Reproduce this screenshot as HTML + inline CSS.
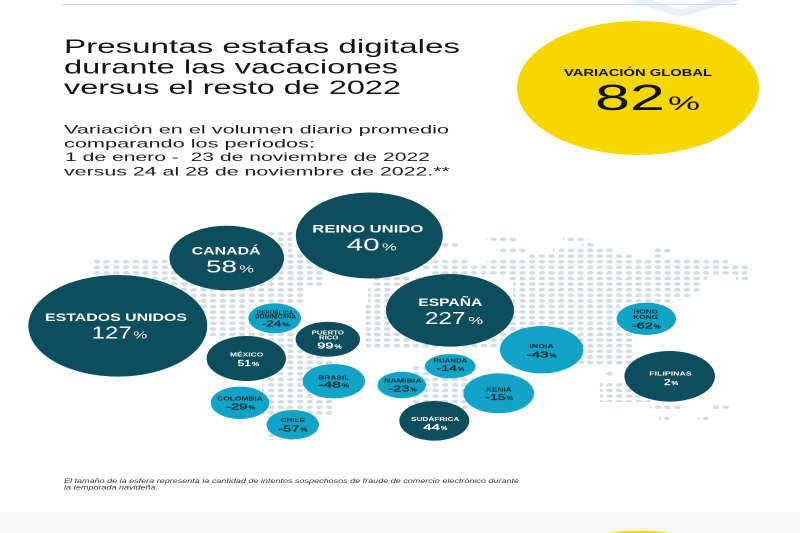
<!DOCTYPE html>
<html><head><meta charset="utf-8"><style>
html,body{margin:0;padding:0;background:#fff;width:800px;height:533px;overflow:hidden;}
svg{display:block;overflow:hidden;}
text{font-family:"Liberation Sans",sans-serif;}
.t{font-size:19px;fill:#141414;}
.s{font-size:12px;fill:#1e1e1e;}
.lb{font-weight:bold;font-size:11px;fill:#fff;}
.nb{font-size:17.5px;fill:#fff;}
.pb{font-size:10px;fill:#fff;}
.sl{font-weight:bold;font-size:5.8px;}
.sn{font-size:8.5px;stroke-width:0.35;}
.sp{font-size:5.5px;stroke-width:0.25;}
.w{fill:#fff;stroke:#fff;}
.k{fill:#0d2b36;stroke:#0d2b36;}
.wl{fill:#fff;}
.kl{fill:#0d2b36;}
</style></head><body>
<svg width="800" height="533" viewBox="0 0 800 533" xmlns="http://www.w3.org/2000/svg">
<defs>
<pattern id="d" patternUnits="userSpaceOnUse" x="101.87" y="258.9" width="9.67" height="5.6">
<ellipse cx="4.835" cy="2.8" rx="3.3" ry="1.85" fill="#d3dbe3"/>
</pattern>
</defs>
<rect x="0" y="0" width="800" height="533" fill="#fff"/>
<!-- top decoration -->
<polygon points="627,0 652,0 680,10 712,0 740,0 680,17" fill="#e6f2f7"/>
<line x1="62" y1="4.5" x2="737" y2="4.5" stroke="#d9d9d9" stroke-width="1"/>

<!-- title -->
<text class="t" x="64" y="53" textLength="396" lengthAdjust="spacingAndGlyphs">Presuntas estafas digitales</text>
<text class="t" x="64" y="73.5" textLength="334" lengthAdjust="spacingAndGlyphs">durante las vacaciones</text>
<text class="t" x="64" y="94" textLength="337" lengthAdjust="spacingAndGlyphs">versus el resto de 2022</text>

<text class="s" x="64" y="133.3" textLength="385" lengthAdjust="spacingAndGlyphs">Variación en el volumen diario promedio</text>
<text class="s" x="64" y="147.3" textLength="251" lengthAdjust="spacingAndGlyphs">comparando los períodos:</text>
<text class="s" x="65" y="161" textLength="365" lengthAdjust="spacingAndGlyphs">1 de enero -&#160; 23 de noviembre de 2022</text>
<text class="s" x="64" y="175.5" textLength="386" lengthAdjust="spacingAndGlyphs">versus 24 al 28 de noviembre de 2022.**</text>

<!-- yellow global -->
<ellipse cx="638" cy="88" rx="121" ry="67" fill="#f8d700"/>
<text x="564" y="76" font-weight="bold" font-size="10" fill="#111" textLength="148" lengthAdjust="spacingAndGlyphs">VARIACIÓN GLOBAL</text>
<text x="595" y="110" font-size="36" fill="#111" textLength="70" lengthAdjust="spacingAndGlyphs">82</text>
<text x="668" y="110" font-size="19" fill="#111" textLength="32" lengthAdjust="spacingAndGlyphs">%</text>

<!-- dot map -->
<g fill="url(#d)">
<rect x="92" y="259" width="80" height="22"/>
<rect x="170" y="253" width="135" height="50"/>
<rect x="263" y="231" width="29" height="22"/>
<rect x="290" y="253" width="32" height="34"/>
<rect x="200" y="298" width="50" height="39"/>
<rect x="245" y="330" width="50" height="20"/>
<rect x="283" y="345" width="39" height="21"/>
<rect x="262" y="360" width="73" height="55"/>
<rect x="268" y="410" width="42" height="30"/>

<rect x="486" y="236.5" width="32" height="5.6"/>
<rect x="563" y="236.5" width="25" height="5.6"/>
<rect x="440" y="242.1" width="20" height="5.6"/>
<rect x="582" y="242.1" width="13" height="5.6"/>
<rect x="496" y="247.7" width="31" height="5.6"/>
<rect x="553" y="247.7" width="60" height="5.6"/>
<rect x="651" y="247.7" width="20" height="5.6"/>
<rect x="527" y="253.3" width="106" height="5.6"/>
<rect x="651" y="253.3" width="11" height="5.6"/>
<rect x="426" y="258.9" width="44" height="5.6"/>
<rect x="486" y="258.9" width="244" height="5.6"/>
<rect x="416" y="264.5" width="334" height="5.6"/>
<rect x="432" y="270.1" width="315" height="5.6"/>
<rect x="372" y="275.7" width="40" height="11"/>
<rect x="506" y="275.7" width="201" height="5.6"/>
<rect x="736" y="275.7" width="14" height="5.6"/>
<rect x="513" y="281.3" width="187" height="5.6"/>
<rect x="513" y="286.9" width="187" height="5.6"/>
<rect x="513" y="292.5" width="177" height="5.6"/>
<rect x="368" y="286.9" width="25" height="17"/>
<rect x="513" y="298.1" width="160" height="5.6"/>
<rect x="366" y="303.7" width="27" height="33.6"/>
<rect x="510" y="303.7" width="110" height="33.6"/>
<rect x="366" y="331.7" width="140" height="16.8"/>
<rect x="580" y="331.7" width="56" height="16.8"/>
<rect x="580" y="348.5" width="53" height="16.8"/>
<rect x="603" y="370.9" width="10" height="5.6"/>
<rect x="410" y="365" width="63" height="45"/>
<rect x="600" y="381" width="50" height="21"/>
<rect x="650" y="404.5" width="33" height="5.6"/>
<rect x="710" y="404.5" width="20" height="5.6"/>
<rect x="659" y="415.7" width="10" height="5.6"/>
<rect x="698" y="415.7" width="10" height="5.6"/>
</g>

<!-- bubbles -->
<g>
<ellipse cx="117.8" cy="325.8" rx="89.5" ry="50.8" fill="#0c4e5d"/>
<ellipse cx="226.7" cy="258" rx="57.3" ry="32.2" fill="#0c4e5d"/>
<ellipse cx="369.3" cy="235.5" rx="73.5" ry="43" fill="#0c4e5d"/>
<ellipse cx="450" cy="310.3" rx="64" ry="36.3" fill="#0c4e5d"/>
<ellipse cx="274.7" cy="318.3" rx="26.3" ry="15" fill="#12a4c6"/>
<ellipse cx="327.8" cy="339.2" rx="32.2" ry="17.5" fill="#0c4e5d"/>
<ellipse cx="246.3" cy="358.5" rx="39.7" ry="22.5" fill="#0c4e5d"/>
<ellipse cx="333.8" cy="381.2" rx="31.2" ry="17.2" fill="#12a4c6"/>
<ellipse cx="240" cy="402.8" rx="29.3" ry="16.2" fill="#12a4c6"/>
<ellipse cx="292.8" cy="424.7" rx="26.2" ry="14.7" fill="#12a4c6"/>
<ellipse cx="541.7" cy="349.7" rx="41.7" ry="23.7" fill="#12a4c6"/>
<ellipse cx="646.3" cy="318.8" rx="29.7" ry="16.2" fill="#12a4c6"/>
<ellipse cx="669.7" cy="376.3" rx="45.3" ry="25.3" fill="#0c4e5d"/>
<ellipse cx="450.3" cy="366.2" rx="25.3" ry="12.2" fill="#12a4c6"/>
<ellipse cx="401.8" cy="385" rx="24.2" ry="13.3" fill="#12a4c6"/>
<ellipse cx="498.7" cy="393.3" rx="35.3" ry="20" fill="#12a4c6"/>
<ellipse cx="434.3" cy="420.8" rx="35" ry="19.8" fill="#0c4e5d"/>
</g>

<!-- big labels -->
<text class="lb" x="45" y="321" textLength="142" lengthAdjust="spacingAndGlyphs">ESTADOS UNIDOS</text>
<text class="nb" x="91.7" y="338.3" textLength="40" lengthAdjust="spacingAndGlyphs">127</text>
<text class="pb" x="133.3" y="338.3" textLength="14" lengthAdjust="spacingAndGlyphs">%</text>

<text class="lb" x="191.7" y="254.3" textLength="69" lengthAdjust="spacingAndGlyphs">CANADÁ</text>
<text class="nb" x="206" y="272.7" textLength="31" lengthAdjust="spacingAndGlyphs">58</text>
<text class="pb" x="239.3" y="272.7" textLength="14.7" lengthAdjust="spacingAndGlyphs">%</text>

<text class="lb" x="312.3" y="232.3" textLength="111" lengthAdjust="spacingAndGlyphs">REINO UNIDO</text>
<text class="nb" x="346.7" y="250.7" textLength="33" lengthAdjust="spacingAndGlyphs">40</text>
<text class="pb" x="382" y="250.7" textLength="14.7" lengthAdjust="spacingAndGlyphs">%</text>

<text class="lb" x="418.3" y="306" textLength="64" lengthAdjust="spacingAndGlyphs">ESPAÑA</text>
<text class="nb" x="425" y="324" textLength="40.5" lengthAdjust="spacingAndGlyphs">227</text>
<text class="pb" x="468.3" y="324" textLength="15" lengthAdjust="spacingAndGlyphs">%</text>

<!-- small labels: light bubbles (dark text) -->
<text class="sl kl" x="256.7" y="314.3" textLength="36.6" lengthAdjust="spacingAndGlyphs" style="font-size:5px">REPÚBLICA</text>
<text class="sl kl" x="255" y="318.6" textLength="41" lengthAdjust="spacingAndGlyphs" style="font-size:5px">DOMINICANA</text>
<text class="sn k" x="261.7" y="326.7" textLength="19.8" lengthAdjust="spacingAndGlyphs">-24</text>
<text class="sp k" x="282.5" y="326.7" textLength="7.5" lengthAdjust="spacingAndGlyphs">%</text>

<text class="sl kl" x="318.3" y="379.3" textLength="31" lengthAdjust="spacingAndGlyphs">BRASIL</text>
<text class="sn k" x="318.3" y="387.7" textLength="22.7" lengthAdjust="spacingAndGlyphs">-48</text>
<text class="sp k" x="342" y="387.7" textLength="7.3" lengthAdjust="spacingAndGlyphs">%</text>

<text class="sl kl" x="217.3" y="400.7" textLength="45.4" lengthAdjust="spacingAndGlyphs">COLOMBIA</text>
<text class="sn k" x="226" y="409.3" textLength="21.5" lengthAdjust="spacingAndGlyphs">-29</text>
<text class="sp k" x="248.5" y="409.3" textLength="6.5" lengthAdjust="spacingAndGlyphs">%</text>

<text class="sl kl" x="280.7" y="422" textLength="24.3" lengthAdjust="spacingAndGlyphs">CHILE</text>
<text class="sn k" x="278.3" y="431.7" textLength="21.2" lengthAdjust="spacingAndGlyphs">-57</text>
<text class="sp k" x="300.5" y="431.7" textLength="6.8" lengthAdjust="spacingAndGlyphs">%</text>

<text class="sl kl" x="529.3" y="348" textLength="24.7" lengthAdjust="spacingAndGlyphs">INDIA</text>
<text class="sn k" x="526.7" y="357.3" textLength="21.8" lengthAdjust="spacingAndGlyphs">-43</text>
<text class="sp k" x="549.5" y="357.3" textLength="7.2" lengthAdjust="spacingAndGlyphs">%</text>

<text class="sl kl" x="633.3" y="313.7" textLength="25" lengthAdjust="spacingAndGlyphs">HONG</text>
<text class="sl kl" x="633.3" y="319" textLength="25" lengthAdjust="spacingAndGlyphs">KONG</text>
<text class="sn k" x="631.7" y="328.3" textLength="21.3" lengthAdjust="spacingAndGlyphs">-62</text>
<text class="sp k" x="654" y="328.3" textLength="6.7" lengthAdjust="spacingAndGlyphs">%</text>

<text class="sl kl" x="433.3" y="362.3" textLength="34" lengthAdjust="spacingAndGlyphs">RUANDA</text>
<text class="sn k" x="436.7" y="371" textLength="20.3" lengthAdjust="spacingAndGlyphs">-14</text>
<text class="sp k" x="458" y="371" textLength="6.3" lengthAdjust="spacingAndGlyphs">%</text>

<text class="sl kl" x="384" y="382.7" textLength="37.7" lengthAdjust="spacingAndGlyphs">NAMIBIA</text>
<text class="sn k" x="388.3" y="391.7" textLength="21.2" lengthAdjust="spacingAndGlyphs">-23</text>
<text class="sp k" x="410.5" y="391.7" textLength="6.2" lengthAdjust="spacingAndGlyphs">%</text>

<text class="sl kl" x="486" y="391.3" textLength="25.7" lengthAdjust="spacingAndGlyphs">KENIA</text>
<text class="sn k" x="485" y="400" textLength="21" lengthAdjust="spacingAndGlyphs">-15</text>
<text class="sp k" x="507" y="400" textLength="6.3" lengthAdjust="spacingAndGlyphs">%</text>

<!-- small labels: dark bubbles (white text) -->
<text class="sl wl" x="311.7" y="334.7" textLength="32.3" lengthAdjust="spacingAndGlyphs">PUERTO</text>
<text class="sl wl" x="319" y="339.7" textLength="19.3" lengthAdjust="spacingAndGlyphs">RICO</text>
<text class="sn w" x="317.3" y="348.3" textLength="16.2" lengthAdjust="spacingAndGlyphs">99</text>
<text class="sp w" x="334.5" y="348.3" textLength="7.2" lengthAdjust="spacingAndGlyphs">%</text>

<text class="sl wl" x="230" y="356.7" textLength="33.3" lengthAdjust="spacingAndGlyphs">MÉXICO</text>
<text class="sn w" x="237.7" y="366" textLength="13.3" lengthAdjust="spacingAndGlyphs">51</text>
<text class="sp w" x="252" y="366" textLength="7.3" lengthAdjust="spacingAndGlyphs">%</text>

<text class="sl wl" x="649.3" y="375.7" textLength="42.4" lengthAdjust="spacingAndGlyphs">FILIPINAS</text>
<text class="sn w" x="664" y="385" textLength="6.5" lengthAdjust="spacingAndGlyphs">2</text>
<text class="sp w" x="671.5" y="385" textLength="6.8" lengthAdjust="spacingAndGlyphs">%</text>

<text class="sl wl" x="411" y="421" textLength="48.3" lengthAdjust="spacingAndGlyphs">SUDÁFRICA</text>
<text class="sn w" x="423.3" y="430" textLength="16.7" lengthAdjust="spacingAndGlyphs">44</text>
<text class="sp w" x="441" y="430" textLength="6.3" lengthAdjust="spacingAndGlyphs">%</text>

<!-- footnote -->
<text x="64" y="483" font-size="6.5" font-style="italic" fill="#333" textLength="455" lengthAdjust="spacingAndGlyphs">El tamaño de la esfera representa la cantidad de intentos sospechosos de fraude de comercio electrónico durante</text>
<text x="64" y="489.5" font-size="6.5" font-style="italic" fill="#333" textLength="94" lengthAdjust="spacingAndGlyphs">la temporada navideña.</text>

<!-- bottom band -->
<rect x="0" y="512" width="800" height="21" fill="#f6f6f6"/>
<path d="M607.6,533 Q639,528.4 670.4,533 Z" fill="#f8d700"/>
</svg>
</body></html>
